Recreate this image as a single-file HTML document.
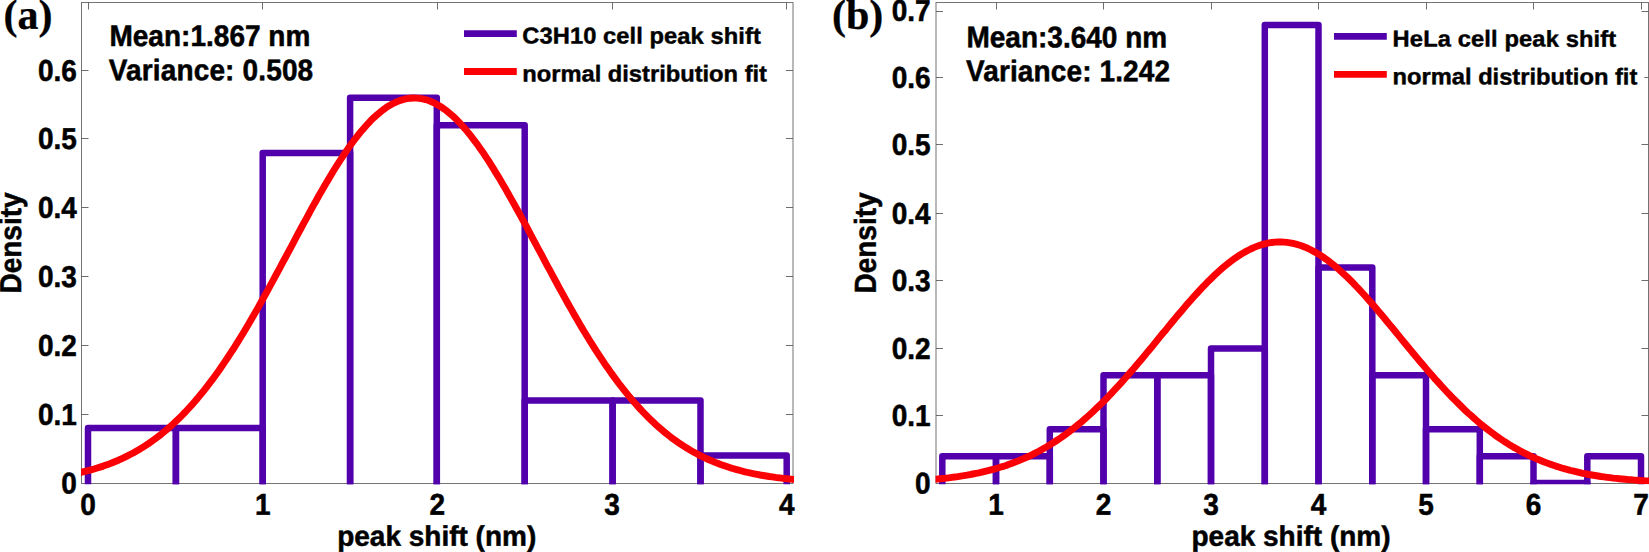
<!DOCTYPE html>
<html><head><meta charset="utf-8"><title>Peak shift histograms</title>
<style>
html,body{margin:0;padding:0;background:#fff;}
body{width:1649px;height:552px;overflow:hidden;}
svg{display:block;}
text{font-family:"Liberation Sans",Arial,Helvetica,sans-serif;font-weight:bold;fill:#000;stroke:#000;stroke-width:0.5px;stroke-linejoin:round;}
.t28{font-size:28px;}
.tleg{font-size:23.7px;stroke-width:0.45px;}
.ser{font-family:"Liberation Serif","Times New Roman",serif;font-weight:bold;font-size:42px;stroke-width:0.3px;}
</style></head><body>
<svg width="1649" height="552" viewBox="0 0 1649 552">
<rect width="1649" height="552" fill="#fff"/>
<clipPath id="c1"><rect x="81.0" y="1.5" width="713.0" height="482.8"/></clipPath>
<rect x="81.5" y="2.5" width="711.5" height="481.0" fill="none" stroke="#737373" stroke-width="1"/>
<path d="M88.5 483.5v-7M88.5 2.5v7M262.5 483.5v-7M262.5 2.5v7M437.5 483.5v-7M437.5 2.5v7M612.5 483.5v-7M612.5 2.5v7M786.5 483.5v-7M786.5 2.5v7M81.5 414.5h7M793.0 414.5h-7M81.5 345.5h7M793.0 345.5h-7M81.5 276.5h7M793.0 276.5h-7M81.5 207.5h7M793.0 207.5h-7M81.5 138.5h7M793.0 138.5h-7M81.5 70.5h7M793.0 70.5h-7" stroke="#5c5c5c" stroke-width="0.9" fill="none"/>
<g clip-path="url(#c1)" fill="none" stroke-linejoin="round">
<path d="M88.0 487.1V428.1H175.9V487.1" stroke="#5200ac" stroke-width="6.5"/>
<path d="M175.9 487.1V428.1H262.7V487.1" stroke="#5200ac" stroke-width="6.5"/>
<path d="M262.7 487.1V152.9H350.1V487.1" stroke="#5200ac" stroke-width="6.5"/>
<path d="M350.1 487.1V97.8H436.8V487.1" stroke="#5200ac" stroke-width="6.5"/>
<path d="M436.8 487.1V125.3H524.7V487.1" stroke="#5200ac" stroke-width="6.5"/>
<path d="M524.7 487.1V400.5H612.6V487.1" stroke="#5200ac" stroke-width="6.5"/>
<path d="M612.6 487.1V400.5H700.5V487.1" stroke="#5200ac" stroke-width="6.5"/>
<path d="M700.5 487.1V455.6H786.7V487.1" stroke="#5200ac" stroke-width="6.5"/>
<polyline points="72.8,474.1 75.8,473.5 78.8,472.8 81.9,472.2 84.9,471.4 88.0,470.6 91.0,469.8 94.1,469.0 97.1,468.0 100.1,467.1 103.2,466.1 106.2,465.0 109.3,463.9 112.3,462.7 115.3,461.5 118.4,460.2 121.4,458.8 124.5,457.4 127.5,455.9 130.6,454.3 133.6,452.7 136.6,451.0 139.7,449.2 142.7,447.3 145.8,445.4 148.8,443.4 151.8,441.2 154.9,439.0 157.9,436.8 161.0,434.4 164.0,431.9 167.1,429.4 170.1,426.7 173.1,424.0 176.2,421.1 179.2,418.2 182.3,415.1 185.3,412.0 188.3,408.7 191.4,405.4 194.4,401.9 197.5,398.4 200.5,394.7 203.6,391.0 206.6,387.1 209.6,383.2 212.7,379.1 215.7,375.0 218.8,370.7 221.8,366.3 224.8,361.9 227.9,357.3 230.9,352.7 234.0,348.0 237.0,343.1 240.0,338.2 243.1,333.2 246.1,328.2 249.2,323.0 252.2,317.8 255.3,312.5 258.3,307.2 261.3,301.8 264.4,296.3 267.4,290.8 270.5,285.2 273.5,279.6 276.5,274.0 279.6,268.4 282.6,262.7 285.7,257.0 288.7,251.3 291.8,245.6 294.8,239.9 297.8,234.2 300.9,228.5 303.9,222.9 307.0,217.3 310.0,211.7 313.0,206.2 316.1,200.7 319.1,195.3 322.2,190.0 325.2,184.7 328.3,179.6 331.3,174.5 334.3,169.5 337.4,164.7 340.4,160.0 343.5,155.3 346.5,150.9 349.5,146.5 352.6,142.3 355.6,138.3 358.7,134.4 361.7,130.7 364.8,127.2 367.8,123.8 370.8,120.6 373.9,117.6 376.9,114.9 380.0,112.3 383.0,109.9 386.0,107.7 389.1,105.7 392.1,104.0 395.2,102.5 398.2,101.2 401.3,100.1 404.3,99.2 407.3,98.6 410.4,98.2 413.4,98.0 416.5,98.1 419.5,98.4 422.5,98.9 425.6,99.6 428.6,100.6 431.7,101.8 434.7,103.2 437.8,104.9 440.8,106.7 443.8,108.8 446.9,111.1 449.9,113.6 453.0,116.2 456.0,119.1 459.0,122.2 462.1,125.5 465.1,128.9 468.2,132.6 471.2,136.4 474.2,140.3 477.3,144.4 480.3,148.7 483.4,153.1 486.4,157.7 489.5,162.3 492.5,167.1 495.5,172.1 498.6,177.1 501.6,182.2 504.7,187.4 507.7,192.7 510.7,198.1 513.8,203.5 516.8,209.0 519.9,214.5 522.9,220.1 526.0,225.7 529.0,231.4 532.0,237.1 535.1,242.8 538.1,248.5 541.2,254.2 544.2,259.9 547.2,265.6 550.3,271.2 553.3,276.9 556.4,282.5 559.4,288.1 562.5,293.6 565.5,299.1 568.5,304.5 571.6,309.9 574.6,315.2 577.7,320.5 580.7,325.7 583.7,330.8 586.8,335.8 589.8,340.7 592.9,345.6 595.9,350.4 599.0,355.1 602.0,359.7 605.0,364.2 608.1,368.6 611.1,372.9 614.2,377.1 617.2,381.2 620.2,385.2 623.3,389.1 626.3,392.9 629.4,396.6 632.4,400.2 635.5,403.7 638.5,407.1 641.5,410.4 644.6,413.6 647.6,416.7 650.7,419.7 653.7,422.6 656.7,425.4 659.8,428.1 662.8,430.7 665.9,433.2 668.9,435.6 671.9,437.9 675.0,440.2 678.0,442.3 681.1,444.4 684.1,446.4 687.2,448.3 690.2,450.1 693.2,451.9 696.3,453.5 699.3,455.1 702.4,456.7 705.4,458.1 708.4,459.5 711.5,460.8 714.5,462.1 717.6,463.3 720.6,464.5 723.7,465.6 726.7,466.6 729.7,467.6 732.8,468.5 735.8,469.4 738.9,470.2 741.9,471.0 744.9,471.8 748.0,472.5 751.0,473.2 754.1,473.8 757.1,474.4 760.2,475.0 763.2,475.5 766.2,476.0 769.3,476.5 772.3,476.9 775.4,477.4 778.4,477.8 781.4,478.1 784.5,478.5 787.5,478.8 790.6,479.1 793.6,479.4 796.7,479.7 799.7,479.9 802.7,480.1" stroke="#fb0004" stroke-width="6.9" stroke-linecap="butt"/>
</g>
<text class="t28" transform="translate(88.0 514.7) rotate(0.05) scale(1.0 1.075)" text-anchor="middle">0</text>
<text class="t28" transform="translate(262.7 514.7) rotate(0.05) scale(1.0 1.075)" text-anchor="middle">1</text>
<text class="t28" transform="translate(437.4 514.7) rotate(0.05) scale(1.0 1.075)" text-anchor="middle">2</text>
<text class="t28" transform="translate(612.1 514.7) rotate(0.05) scale(1.0 1.075)" text-anchor="middle">3</text>
<text class="t28" transform="translate(786.8 514.7) rotate(0.05) scale(1.0 1.075)" text-anchor="middle">4</text>
<text class="t28" transform="translate(76.8 493.5) rotate(0.05) scale(1.0 1.075)" text-anchor="end">0</text>
<text class="t28" transform="translate(76.8 424.9) rotate(0.05) scale(1.0 1.075)" text-anchor="end">0.1</text>
<text class="t28" transform="translate(76.8 355.9) rotate(0.05) scale(1.0 1.075)" text-anchor="end">0.2</text>
<text class="t28" transform="translate(76.8 286.9) rotate(0.05) scale(1.0 1.075)" text-anchor="end">0.3</text>
<text class="t28" transform="translate(76.8 217.9) rotate(0.05) scale(1.0 1.075)" text-anchor="end">0.4</text>
<text class="t28" transform="translate(76.8 148.9) rotate(0.05) scale(1.0 1.075)" text-anchor="end">0.5</text>
<text class="t28" transform="translate(76.8 80.9) rotate(0.05) scale(1.0 1.075)" text-anchor="end">0.6</text>
<text class="ser" transform="translate(3.5 28.7) rotate(0.05)">(a)</text>
<text class="t28" transform="translate(109.4 45.9) rotate(0.05) scale(1.0 1.065)" letter-spacing="0.03">Mean:1.867 nm</text>
<text class="t28" transform="translate(108.7 80.2) rotate(0.05) scale(1.0 1.065)" letter-spacing="0.16">Variance: 0.508</text>
<path d="M464 33.6H516.8" stroke="#5200ac" stroke-width="6.8"/>
<path d="M464 71.5H516.8" stroke="#fb0004" stroke-width="6.8"/>
<text class="tleg" transform="translate(522.3 43.5) rotate(0.05) scale(1.0 0.97)" letter-spacing="0.08">C3H10 cell peak shift</text>
<text class="tleg" transform="translate(522.3 81.4) rotate(0.05) scale(1.0 0.97)">normal distribution fit</text>
<text class="t28" transform="translate(21.0 243.0) rotate(-89.95) scale(1.0 1.08)" text-anchor="middle">Density</text>
<text class="t28" transform="translate(436.7 545.8) rotate(0.05) scale(1.0 1.015)" text-anchor="middle">peak shift (nm)</text>
<clipPath id="c2"><rect x="935.5" y="1.5" width="714.5" height="482.8"/></clipPath>
<rect x="936.0" y="2.5" width="712.5" height="481.0" fill="none" stroke="#737373" stroke-width="1"/>
<path d="M996.5 483.5v-7M996.5 2.5v7M1103.5 483.5v-7M1103.5 2.5v7M1211.5 483.5v-7M1211.5 2.5v7M1318.5 483.5v-7M1318.5 2.5v7M1426.5 483.5v-7M1426.5 2.5v7M1533.5 483.5v-7M1533.5 2.5v7M1641.5 483.5v-7M1641.5 2.5v7M936.0 415.5h7M1648.5 415.5h-7M936.0 348.5h7M1648.5 348.5h-7M936.0 280.5h7M1648.5 280.5h-7M936.0 213.5h7M1648.5 213.5h-7M936.0 144.5h7M1648.5 144.5h-7M936.0 77.5h7M1648.5 77.5h-7M936.0 11.5h7M1648.5 11.5h-7" stroke="#5c5c5c" stroke-width="0.9" fill="none"/>
<g clip-path="url(#c2)" fill="none" stroke-linejoin="round">
<path d="M942.3 487.1V456.2H996.0V487.1" stroke="#5200ac" stroke-width="6.5"/>
<path d="M996.0 487.1V456.2H1049.8V487.1" stroke="#5200ac" stroke-width="6.5"/>
<path d="M1049.8 487.1V429.2H1103.5V487.1" stroke="#5200ac" stroke-width="6.5"/>
<path d="M1103.5 487.1V375.3H1157.3V487.1" stroke="#5200ac" stroke-width="6.5"/>
<path d="M1157.3 487.1V375.3H1211.0V487.1" stroke="#5200ac" stroke-width="6.5"/>
<path d="M1211.0 487.1V348.4H1264.8V487.1" stroke="#5200ac" stroke-width="6.5"/>
<path d="M1264.8 487.1V25.0H1318.5V487.1" stroke="#5200ac" stroke-width="6.5"/>
<path d="M1318.5 487.1V267.5H1372.3V487.1" stroke="#5200ac" stroke-width="6.5"/>
<path d="M1372.3 487.1V375.3H1426.0V487.1" stroke="#5200ac" stroke-width="6.5"/>
<path d="M1426.0 487.1V429.2H1479.8V487.1" stroke="#5200ac" stroke-width="6.5"/>
<path d="M1479.8 487.1V456.2H1533.5V487.1" stroke="#5200ac" stroke-width="6.5"/>
<path d="M1533.5 487.1V483.1H1587.3V487.1" stroke="#5200ac" stroke-width="6.5"/>
<path d="M1587.3 487.1V456.2H1641.0V487.1" stroke="#5200ac" stroke-width="6.5"/>
<polyline points="930.6,479.7 933.6,479.4 936.7,479.1 939.7,478.8 942.7,478.5 945.7,478.2 948.7,477.8 951.8,477.4 954.8,477.0 957.8,476.6 960.8,476.1 963.8,475.7 966.9,475.2 969.9,474.6 972.9,474.0 975.9,473.4 978.9,472.8 982.0,472.1 985.0,471.4 988.0,470.7 991.0,469.9 994.0,469.1 997.1,468.2 1000.1,467.3 1003.1,466.4 1006.1,465.4 1009.1,464.3 1012.2,463.2 1015.2,462.1 1018.2,460.9 1021.2,459.6 1024.2,458.3 1027.3,457.0 1030.3,455.6 1033.3,454.1 1036.3,452.5 1039.3,451.0 1042.4,449.3 1045.4,447.6 1048.4,445.8 1051.4,443.9 1054.4,442.0 1057.5,440.0 1060.5,438.0 1063.5,435.9 1066.5,433.7 1069.5,431.4 1072.6,429.1 1075.6,426.7 1078.6,424.3 1081.6,421.8 1084.6,419.2 1087.7,416.5 1090.7,413.8 1093.7,411.0 1096.7,408.1 1099.7,405.2 1102.8,402.2 1105.8,399.2 1108.8,396.1 1111.8,392.9 1114.8,389.7 1117.9,386.4 1120.9,383.1 1123.9,379.7 1126.9,376.3 1129.9,372.9 1133.0,369.4 1136.0,365.8 1139.0,362.3 1142.0,358.7 1145.0,355.1 1148.0,351.4 1151.1,347.8 1154.1,344.1 1157.1,340.4 1160.1,336.7 1163.1,333.0 1166.2,329.4 1169.2,325.7 1172.2,322.0 1175.2,318.4 1178.2,314.8 1181.3,311.2 1184.3,307.6 1187.3,304.1 1190.3,300.7 1193.3,297.3 1196.4,293.9 1199.4,290.6 1202.4,287.4 1205.4,284.3 1208.4,281.2 1211.5,278.2 1214.5,275.3 1217.5,272.5 1220.5,269.8 1223.5,267.1 1226.6,264.6 1229.6,262.2 1232.6,260.0 1235.6,257.8 1238.6,255.8 1241.7,253.9 1244.7,252.1 1247.7,250.5 1250.7,249.0 1253.7,247.6 1256.8,246.4 1259.8,245.3 1262.8,244.4 1265.8,243.6 1268.8,242.9 1271.9,242.5 1274.9,242.1 1277.9,242.0 1280.9,241.9 1283.9,242.1 1287.0,242.4 1290.0,242.8 1293.0,243.4 1296.0,244.1 1299.0,245.0 1302.1,246.0 1305.1,247.2 1308.1,248.5 1311.1,250.0 1314.1,251.6 1317.2,253.3 1320.2,255.2 1323.2,257.2 1326.2,259.3 1329.2,261.6 1332.3,263.9 1335.3,266.4 1338.3,269.0 1341.3,271.7 1344.3,274.5 1347.4,277.3 1350.4,280.3 1353.4,283.3 1356.4,286.5 1359.4,289.7 1362.5,293.0 1365.5,296.3 1368.5,299.7 1371.5,303.1 1374.5,306.6 1377.6,310.2 1380.6,313.7 1383.6,317.3 1386.6,321.0 1389.6,324.6 1392.7,328.3 1395.7,332.0 1398.7,335.6 1401.7,339.3 1404.7,343.0 1407.8,346.7 1410.8,350.4 1413.8,354.0 1416.8,357.6 1419.8,361.2 1422.9,364.8 1425.9,368.4 1428.9,371.9 1431.9,375.3 1434.9,378.8 1438.0,382.1 1441.0,385.5 1444.0,388.8 1447.0,392.0 1450.0,395.2 1453.0,398.3 1456.1,401.3 1459.1,404.3 1462.1,407.3 1465.1,410.2 1468.1,413.0 1471.2,415.7 1474.2,418.4 1477.2,421.0 1480.2,423.6 1483.2,426.0 1486.3,428.4 1489.3,430.8 1492.3,433.0 1495.3,435.3 1498.3,437.4 1501.4,439.5 1504.4,441.5 1507.4,443.4 1510.4,445.3 1513.4,447.1 1516.5,448.8 1519.5,450.5 1522.5,452.1 1525.5,453.6 1528.5,455.1 1531.6,456.6 1534.6,457.9 1537.6,459.3 1540.6,460.5 1543.6,461.7 1546.7,462.9 1549.7,464.0 1552.7,465.1 1555.7,466.1 1558.7,467.0 1561.8,468.0 1564.8,468.8 1567.8,469.7 1570.8,470.5 1573.8,471.2 1576.9,471.9 1579.9,472.6 1582.9,473.3 1585.9,473.9 1588.9,474.5 1592.0,475.0 1595.0,475.5 1598.0,476.0 1601.0,476.5 1604.0,476.9 1607.1,477.3 1610.1,477.7 1613.1,478.1 1616.1,478.4 1619.1,478.7 1622.2,479.0 1625.2,479.3 1628.2,479.6 1631.2,479.8 1634.2,480.1 1637.3,480.3 1640.3,480.5 1643.3,480.7 1646.3,480.9 1649.3,481.0 1652.4,481.2 1655.4,481.3" stroke="#fb0004" stroke-width="6.9" stroke-linecap="butt"/>
</g>
<text class="t28" transform="translate(996.0 514.7) rotate(0.05) scale(1.0 1.075)" text-anchor="middle">1</text>
<text class="t28" transform="translate(1103.5 514.7) rotate(0.05) scale(1.0 1.075)" text-anchor="middle">2</text>
<text class="t28" transform="translate(1211.0 514.7) rotate(0.05) scale(1.0 1.075)" text-anchor="middle">3</text>
<text class="t28" transform="translate(1318.5 514.7) rotate(0.05) scale(1.0 1.075)" text-anchor="middle">4</text>
<text class="t28" transform="translate(1426.0 514.7) rotate(0.05) scale(1.0 1.075)" text-anchor="middle">5</text>
<text class="t28" transform="translate(1533.5 514.7) rotate(0.05) scale(1.0 1.075)" text-anchor="middle">6</text>
<text class="t28" transform="translate(1641.0 514.7) rotate(0.05) scale(1.0 1.075)" text-anchor="middle">7</text>
<text class="t28" transform="translate(930.6 493.5) rotate(0.05) scale(1.0 1.075)" text-anchor="end">0</text>
<text class="t28" transform="translate(930.6 425.9) rotate(0.05) scale(1.0 1.075)" text-anchor="end">0.1</text>
<text class="t28" transform="translate(930.6 358.9) rotate(0.05) scale(1.0 1.075)" text-anchor="end">0.2</text>
<text class="t28" transform="translate(930.6 290.9) rotate(0.05) scale(1.0 1.075)" text-anchor="end">0.3</text>
<text class="t28" transform="translate(930.6 223.9) rotate(0.05) scale(1.0 1.075)" text-anchor="end">0.4</text>
<text class="t28" transform="translate(930.6 154.9) rotate(0.05) scale(1.0 1.075)" text-anchor="end">0.5</text>
<text class="t28" transform="translate(930.6 87.9) rotate(0.05) scale(1.0 1.075)" text-anchor="end">0.6</text>
<text class="t28" transform="translate(930.6 20.9) rotate(0.05) scale(1.0 1.075)" text-anchor="end">0.7</text>
<text class="ser" transform="translate(832 28.7) rotate(0.05)">(b)</text>
<text class="t28" transform="translate(966.5 47.3) rotate(0.05) scale(1.0 1.065)">Mean:3.640 nm</text>
<text class="t28" transform="translate(966.0 81.1) rotate(0.05) scale(1.0 1.065)" letter-spacing="0.13">Variance: 1.242</text>
<path d="M1334 36.4H1386.8" stroke="#5200ac" stroke-width="6.8"/>
<path d="M1334 74.4H1386.8" stroke="#fb0004" stroke-width="6.8"/>
<rect x="1625" y="72" width="19.4" height="12" fill="#fff"/>
<text class="tleg" transform="translate(1392.6 46.5) rotate(0.05) scale(1.0 0.97)" letter-spacing="0.13">HeLa cell peak shift</text>
<text class="tleg" transform="translate(1392.6 84.3) rotate(0.05) scale(1.0 0.97)">normal distribution fit</text>
<text class="t28" transform="translate(875.8 243.0) rotate(-89.95) scale(1.0 1.08)" text-anchor="middle">Density</text>
<text class="t28" transform="translate(1291 545.8) rotate(0.05) scale(1.0 1.015)" text-anchor="middle">peak shift (nm)</text>
</svg></body></html>
